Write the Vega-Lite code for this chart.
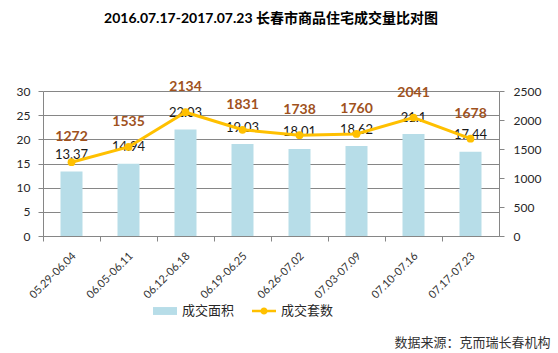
{
  "$schema": "https://vega.github.io/schema/vega-lite/v6.json",
  "width": 456,
  "height": 145,
  "autosize": {"type": "none"},
  "padding": {"left": 43, "top": 91, "right": 59, "bottom": 117},
  "background": "white",
  "config": {"view": {"stroke": null}},
  "title": {
    "text": "2016.07.17-2017.07.23 长春市商品住宅成交量比对图",
    "font": "Lato, Noto Sans CJK SC",
    "fontSize": 14,
    "fontWeight": "bold",
    "color": "#000000",
    "anchor": "middle",
    "frame": "group",
    "baseline": "alphabetic",
    "offset": 43
  },
  "data": {
    "values": [
      {"week": "05.29-06.04", "area": 13.37, "count": 1272, "s": "成交面积"},
      {"week": "06.05-06.11", "area": 14.94, "count": 1535, "s": "成交面积"},
      {"week": "06.12-06.18", "area": 22.03, "count": 2134, "s": "成交面积"},
      {"week": "06.19-06.25", "area": 19.03, "count": 1831, "s": "成交面积"},
      {"week": "06.26-07.02", "area": 18.01, "count": 1738, "s": "成交面积"},
      {"week": "07.03-07.09", "area": 18.62, "count": 1760, "s": "成交面积"},
      {"week": "07.10-07.16", "area": 21.1, "count": 2041, "s": "成交面积"},
      {"week": "07.17-07.23", "area": 17.44, "count": 1678, "s": "成交面积"}
    ]
  },
  "encoding": {
    "x": {
      "field": "week",
      "type": "nominal",
      "sort": null,
      "scale": {"paddingInner": 0.614, "paddingOuter": 0.307},
      "axis": {
        "title": "数据来源：克而瑞长春机构",
        "titleFont": "Noto Sans CJK SC",
        "titleFontSize": 13,
        "titleFontWeight": "normal",
        "titleColor": "#333333",
        "titleAlign": "right",
        "titleBaseline": "middle",
        "titleX": 507,
        "titleY": 106,
        "labelAngle": -45,
        "labelAlign": "right",
        "labelBaseline": "middle",
        "labelFont": "Lato",
        "labelFontSize": 11,
        "labelColor": "#333333",
        "labelPadding": 13,
        "labelOffset": 31,
        "labelOverlap": false,
        "bandPosition": 0.5,
        "tickOffset": -28.5,
        "tickSize": 5,
        "tickColor": "#868686",
        "domainColor": "#868686",
        "grid": false
      }
    }
  },
  "layer": [
    {
      "encoding": {
        "y": {
          "field": "area",
          "type": "quantitative",
          "scale": {"domain": [0, 30]},
          "axis": {
            "orient": "left",
            "title": null,
            "values": [0, 5, 10, 15, 20, 25, 30],
            "grid": true,
            "gridColor": "#868686",
            "domainColor": "#868686",
            "tickColor": "#868686",
            "tickSize": 5,
            "labelPadding": 8,
            "labelFont": "Lato",
            "labelFontSize": 12,
            "labelColor": "#262626",
            "labelOverlap": false
          }
        }
      },
      "layer": [
        {
          "mark": {"type": "bar"},
          "encoding": {
            "color": {
              "field": "s",
              "type": "nominal",
              "scale": {"domain": ["成交面积", "成交套数"], "range": ["#b7dde8", "#ffc000"]},
              "legend": {
                "orient": "none",
                "legendX": 109,
                "legendY": 207,
                "direction": "horizontal",
                "title": null,
                "symbolSize": 576,
                "labelFont": "Noto Sans CJK SC",
                "labelFontSize": 13,
                "labelColor": "#262626",
                "labelOffset": 4,
                "columnPadding": 14,
                "padding": 0,
                "encode": {
                  "symbols": {
                    "update": {
                      "shape": {"signal": "datum.value === '成交面积' ? 'M-1,-0.33L1,-0.33L1,0.33L-1,0.33Z' : 'M-1,-0.1L1,-0.1L1,0.1L-1,0.1Z M0.3,0A0.3,0.3 0 1,1 -0.3,0A0.3,0.3 0 1,1 0.3,0Z'"},
                      "fill": {"scale": "color", "field": "value"},
                      "stroke": {"value": "transparent"},
                      "opacity": {"value": 1}
                    }
                  }
                }
              }
            }
          }
        },
        {
          "mark": {"type": "text", "dy": -16.5, "font": "Lato", "fontSize": 13, "color": "#1a1a1a", "baseline": "middle"},
          "encoding": {
            "text": {"field": "area", "type": "nominal"}
          }
        }
      ]
    },
    {
      "encoding": {
        "y": {
          "field": "count",
          "type": "quantitative",
          "scale": {"domain": [0, 2500]},
          "axis": {
            "orient": "right",
            "title": null,
            "values": [0, 500, 1000, 1500, 2000, 2500],
            "format": "d",
            "grid": false,
            "domainColor": "#868686",
            "tickColor": "#868686",
            "tickSize": 5,
            "labelPadding": 9,
            "labelFont": "Lato",
            "labelFontSize": 12,
            "labelColor": "#262626",
            "labelOverlap": false
          }
        }
      },
      "layer": [
        {
          "mark": {"type": "line", "color": "#ffc000", "strokeWidth": 3, "point": {"filled": true, "size": 60, "color": "#ffc000"}}
        },
        {
          "mark": {"type": "text", "dy": -25, "font": "Lato", "fontSize": 14, "fontWeight": "bold", "color": "#A0521D", "baseline": "middle"},
          "encoding": {
            "text": {"field": "count", "type": "nominal"}
          }
        }
      ]
    }
  ],
  "resolve": {"scale": {"y": "independent"}}
}
